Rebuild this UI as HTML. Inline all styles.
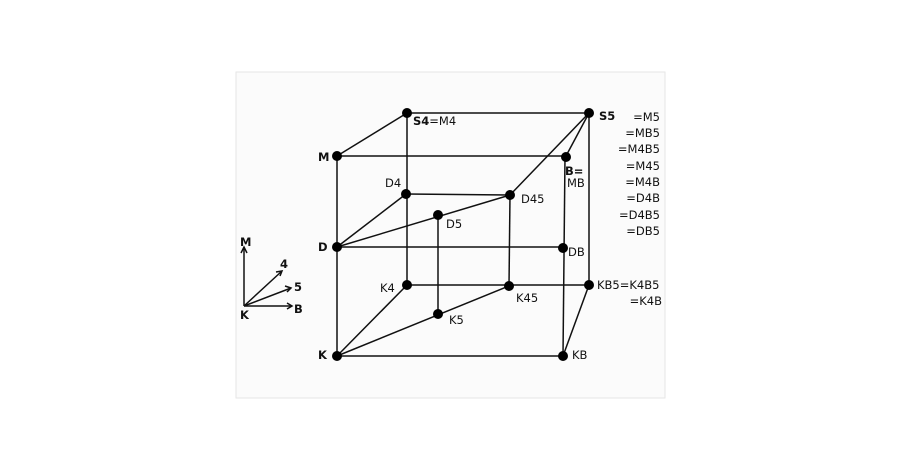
<!DOCTYPE html>
<html><head><style>
body{margin:0;background:#fff;width:900px;height:472px;overflow:hidden}
svg{position:absolute;left:0;top:0}
text{font-family:"DejaVu Sans","Liberation Sans",sans-serif;font-size:11.5px;fill:#111}
.b{font-weight:bold}
</style></head><body>
<svg width="900" height="472" viewBox="0 0 900 472">
<rect x="236" y="72" width="429" height="326" fill="#fbfbfb" stroke="#e6e6e6"/>
<g stroke="#111" stroke-width="1.5" fill="none">
<line x1="407" y1="113" x2="589" y2="113"/>
<line x1="337" y1="156" x2="407" y2="113"/>
<line x1="337" y1="156" x2="566" y2="156"/>
<line x1="589" y1="113" x2="566" y2="156"/>
<line x1="589" y1="113" x2="510" y2="195"/>
<line x1="337" y1="156" x2="337" y2="356"/>
<line x1="407" y1="113" x2="407" y2="285"/>
<line x1="406" y1="194" x2="510" y2="195"/>
<line x1="510" y1="195" x2="509" y2="286"/>
<line x1="438" y1="215" x2="438" y2="314"/>
<line x1="337" y1="247" x2="406" y2="194"/>
<line x1="337" y1="247" x2="510" y2="195"/>
<line x1="337" y1="247" x2="563" y2="247"/>
<line x1="407" y1="285" x2="589" y2="285"/>
<line x1="337" y1="356" x2="407" y2="285"/>
<line x1="337" y1="356" x2="509" y2="286"/>
<line x1="337" y1="356" x2="563" y2="356"/>
<line x1="563" y1="356" x2="589" y2="285"/>
<line x1="565" y1="156" x2="563" y2="356"/>
<line x1="589" y1="113" x2="589" y2="285"/>
<line x1="244" y1="306" x2="244" y2="247"/>
<line x1="244" y1="306" x2="282" y2="271"/>
<line x1="244" y1="306" x2="291" y2="288"/>
<line x1="244" y1="306" x2="292" y2="306"/>
<polyline points="241,253 244,247 247,253"/>
<polyline points="276,272 282,271 280,276"/>
<polyline points="285,286 291,288 287,292"/>
<polyline points="287,303 292,306 287,309"/>
</g>
<g fill="#000">
<circle cx="407" cy="113" r="5"/><circle cx="589" cy="113" r="5"/>
<circle cx="337" cy="156" r="5"/><circle cx="566" cy="157" r="5"/>
<circle cx="406" cy="194" r="5"/><circle cx="510" cy="195" r="5"/>
<circle cx="438" cy="215" r="5"/><circle cx="337" cy="247" r="5"/>
<circle cx="563" cy="248" r="5"/><circle cx="407" cy="285" r="5"/>
<circle cx="509" cy="286" r="5"/><circle cx="589" cy="285" r="5"/>
<circle cx="438" cy="314" r="5"/><circle cx="337" cy="356" r="5"/>
<circle cx="563" cy="356" r="5"/>
</g>
<text x="413" y="125"><tspan class="b">S4</tspan>=M4</text>
<text x="599" y="120" class="b">S5</text>
<g text-anchor="end">
<text x="660" y="121">=M5</text><text x="660" y="137">=MB5</text><text x="660" y="153">=M4B5</text>
<text x="660" y="170">=M45</text><text x="660" y="186">=M4B</text><text x="660" y="202">=D4B</text>
<text x="660" y="219">=D4B5</text><text x="660" y="235">=DB5</text>
<text x="662" y="305">=K4B</text>
</g>
<text x="318" y="161" class="b">M</text>
<text x="565" y="175" class="b">B=</text><text x="567" y="187">MB</text>
<text x="385" y="187">D4</text>
<text x="521" y="203">D45</text>
<text x="446" y="228">D5</text>
<text x="318" y="251" class="b">D</text>
<text x="568" y="256">DB</text>
<text x="380" y="292">K4</text>
<text x="516" y="302">K45</text>
<text x="597" y="289">KB5=K4B5</text>
<text x="449" y="324">K5</text>
<text x="318" y="359" class="b">K</text>
<text x="572" y="359">KB</text>
<text x="240" y="246" class="b" font-size="10">M</text>
<text x="280" y="268" class="b">4</text>
<text x="294" y="291" class="b">5</text>
<text x="294" y="313" class="b">B</text>
<text x="240" y="319" class="b">K</text>
</svg>
</body></html>
